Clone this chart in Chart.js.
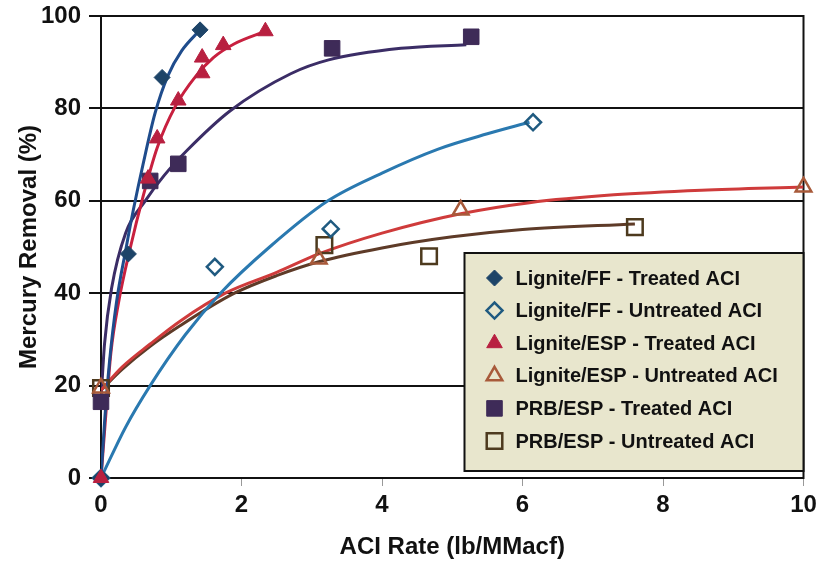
<!DOCTYPE html>
<html>
<head>
<meta charset="utf-8">
<script src="https://cdn.jsdelivr.net/npm/chart.js@4.4.0/dist/chart.umd.min.js"></script>
<style>
  html, body { margin: 0; padding: 0; background: #fff; }
  #wrap { width: 817px; height: 566px; }
</style>
</head>
<body>
<div id="wrap"><canvas id="chart" width="817" height="566"></canvas></div>
<script>
// axis ticks
const xTickValues = [0, 2, 4, 6, 8, 10];
const yTickValues = [0, 20, 40, 60, 80, 100];

// measured points [ACI rate, % removal]
const ffTreated   = [[0, 0], [0.39, 48.5], [0.87, 86.7], [1.41, 97]];
const ffUntreated = [[0, 0], [1.62, 45.7], [3.27, 53.9], [6.15, 77]];
const espTreated  = [[0, 0], [0.67, 64.8], [0.8, 73.5], [1.1, 81.7], [1.44, 87.6], [1.44, 91], [1.74, 93.7], [2.34, 96.7]];
const espUntreated = [[0, 19.5], [3.1, 47.4], [5.12, 58], [10, 63]];
const prbTreated  = [[0, 16.5], [0.7, 64.3], [1.1, 68], [3.29, 93], [5.27, 95.5]];
const prbUntreated = [[0, 19.5], [3.18, 50.4], [4.67, 48], [7.6, 54.3]];

// trend curves
const ffTreatedFit   = [[0, 0], [0.05, 12], [0.12, 25], [0.22, 38], [0.36, 50], [0.46, 58], [0.6, 68], [0.77, 79], [0.95, 87], [1.15, 92.5], [1.41, 97]];
const ffUntreatedFit = [[0, 0], [0.35, 11], [0.7, 20], [1.2, 31], [1.7, 40], [2.4, 50], [3.23, 60], [4.0, 66], [4.8, 71.2], [5.5, 74.5], [6.1, 77]];
const espTreatedFit  = [[0, 0], [0.06, 12], [0.14, 27], [0.25, 38], [0.42, 50], [0.6, 61], [0.8, 71.5], [1.06, 80.5], [1.35, 87], [1.6, 91], [1.9, 94], [2.34, 96.7]];
const espUntreatedFit = [[0, 19], [0.3, 24], [0.7, 29], [1.13, 34], [1.77, 40], [2.5, 44.5], [3.1, 48.5], [4.0, 53], [5.12, 57.2], [6.1, 59.6], [7.3, 61.3], [8.55, 62.3], [10, 63]];
const prbTreatedFit  = [[0, 17], [0.05, 29], [0.15, 41], [0.35, 53], [0.63, 60], [0.9, 65.5], [1.23, 71], [1.84, 79.5], [2.7, 87.5], [3.24, 90.5], [4.27, 93], [5.2, 93.8]];
const prbUntreatedFit = [[0, 19], [0.3, 23.5], [0.7, 28.5], [1.13, 33], [1.9, 40], [2.5, 43.8], [3.1, 46.8], [4.0, 49.8], [5.0, 52.2], [6.0, 53.8], [7.6, 55]];

const seriesNames = [
    "Lignite/FF - Treated ACI",
    "Lignite/FF - Untreated ACI",
    "Lignite/ESP - Treated ACI",
    "Lignite/ESP - Untreated ACI",
    "PRB/ESP - Treated ACI",
    "PRB/ESP - Untreated ACI"
];

const FONT = '"Liberation Sans", Arial, sans-serif';

function toXY(arr) {
    return arr.map(p => ({ x: p[0], y: p[1] }));
}

function markerSet(label, data, style, radius, fill, edge, order) {
    return {
        label: label,
        data: toXY(data),
        isMarker: true,
        pointStyle: style,
        pointRadius: radius,
        pointBackgroundColor: fill,
        pointBorderColor: edge,
        pointBorderWidth: fill === "transparent" ? 2.5 : 1,
        showLine: false,
        clip: false,
        order: order
    };
}

function curveSet(data, color) {
    return {
        label: "",
        data: toXY(data),
        showLine: true,
        pointRadius: 0,
        borderColor: color,
        borderWidth: 3,
        fill: false,
        cubicInterpolationMode: "monotone",
        order: 2
    };
}

const datasets = [
    markerSet(seriesNames[0], ffTreated, "rectRot", 8, "#1d4468", "#1d4468", 1),
    markerSet(seriesNames[1], ffUntreated, "rectRot", 8, "transparent", "#1f5a80", 1),
    markerSet(seriesNames[2], espTreated, "triangle", 9, "#b82040", "#b82040", 0),
    markerSet(seriesNames[3], espUntreated, "triangle", 9, "transparent", "#a85a3a", 1),
    markerSet(seriesNames[4], prbTreated, "rect", 11, "#3e2b58", "#3e2b58", 1),
    markerSet(seriesNames[5], prbUntreated, "rect", 11, "transparent", "#4d3a1e", 1),
    curveSet(ffTreatedFit, "#1f4c8c"),
    curveSet(ffUntreatedFit, "#2a79b0"),
    curveSet(espTreatedFit, "#c8203f"),
    curveSet(espUntreatedFit, "#cf3b3b"),
    curveSet(prbTreatedFit, "#3b2d66"),
    curveSet(prbUntreatedFit, "#5e3b28")
];

function drawMarker(ctx, style, x, y, r, fill, edge, lw) {
    ctx.beginPath();
    if (style === "rectRot") {
        ctx.moveTo(x - r, y); ctx.lineTo(x, y - r); ctx.lineTo(x + r, y); ctx.lineTo(x, y + r);
    } else if (style === "triangle") {
        for (let k = 0; k < 3; k++) {
            const a = k * 2 * Math.PI / 3;
            ctx[k ? "lineTo" : "moveTo"](x + Math.sin(a) * r, y - Math.cos(a) * r);
        }
    } else {
        const s = r * Math.SQRT1_2;
        ctx.rect(x - s, y - s, 2 * s, 2 * s);
    }
    ctx.closePath();
    if (fill !== "transparent") { ctx.fillStyle = fill; ctx.fill(); }
    ctx.lineWidth = lw;
    ctx.strokeStyle = edge;
    ctx.stroke();
}

// black frame round the plot
const plotFrame = {
    id: "plotFrame",
    beforeDatasetsDraw(chart) {
        const a = chart.chartArea, ctx = chart.ctx;
        ctx.save();
        ctx.strokeStyle = "#111";
        ctx.lineWidth = 2;
        ctx.strokeRect(a.left, a.top, a.right - a.left, a.bottom - a.top);
        ctx.restore();
    }
};

// legend box inside the plot, lower right
const boxLegend = {
    id: "boxLegend",
    afterDatasetsDraw(chart) {
        const ctx = chart.ctx, a = chart.chartArea;
        const w = 339, h = 218;
        const x0 = a.right - w, y0 = a.bottom - 7 - h;
        ctx.save();
        ctx.fillStyle = "#e8e6cd";
        ctx.fillRect(x0, y0, w, h);
        ctx.lineWidth = 2;
        ctx.strokeStyle = "#111";
        ctx.strokeRect(x0, y0, w, h);
        ctx.font = "bold 20px " + FONT;
        ctx.textBaseline = "middle";
        chart.data.datasets.filter(d => d.isMarker).forEach((d, i) => {
            const cy = y0 + 25 + i * 32.6;
            drawMarker(ctx, d.pointStyle, x0 + 30, cy, d.pointRadius, d.pointBackgroundColor, d.pointBorderColor, d.pointBorderWidth);
            ctx.fillStyle = "#111";
            ctx.fillText(d.label, x0 + 51, cy + 1);
        });
        ctx.restore();
    }
};

new Chart(document.getElementById("chart").getContext("2d"), {
    type: "scatter",
    data: { datasets: datasets },
    plugins: [plotFrame, boxLegend],
    options: {
        responsive: false,
        animation: false,
        events: [],
        layout: { padding: { top: 16, right: 8, left: 0, bottom: 0 } },
        plugins: { legend: { display: false }, tooltip: { enabled: false } },
        scales: {
            x: {
                type: "linear",
                min: 0,
                max: 10,
                afterBuildTicks: s => { s.ticks = xTickValues.map(v => ({ value: v })); },
                afterFit: s => { s.height = 88; s.paddingLeft = 0; s.paddingRight = 0; },
                grid: { drawOnChartArea: false, drawTicks: true, tickLength: 8, color: "#999", lineWidth: 1 },
                border: { color: "#111", width: 2 },
                ticks: { color: "#111", padding: 5, font: { family: FONT, size: 24, weight: "bold" } },
                title: {
                    display: true,
                    text: "ACI Rate (lb/MMacf)",
                    color: "#111",
                    padding: { top: 0, bottom: 4 },
                    font: { family: FONT, size: 24, weight: "bold" }
                }
            },
            y: {
                min: 0,
                max: 100,
                afterBuildTicks: s => { s.ticks = yTickValues.map(v => ({ value: v })); },
                afterFit: s => { s.width = 101; s.paddingTop = 0; s.paddingBottom = 0; },
                grid: { color: "#111", lineWidth: 2, tickLength: 12 },
                border: { color: "#111", width: 2 },
                ticks: { color: "#111", padding: 8, font: { family: FONT, size: 24, weight: "bold" } },
                title: {
                    display: true,
                    text: "Mercury Removal (%)",
                    color: "#111",
                    padding: { top: 15, bottom: 0 },
                    font: { family: FONT, size: 24, weight: "bold" }
                }
            }
        }
    }
});
</script>
</body>
</html>
